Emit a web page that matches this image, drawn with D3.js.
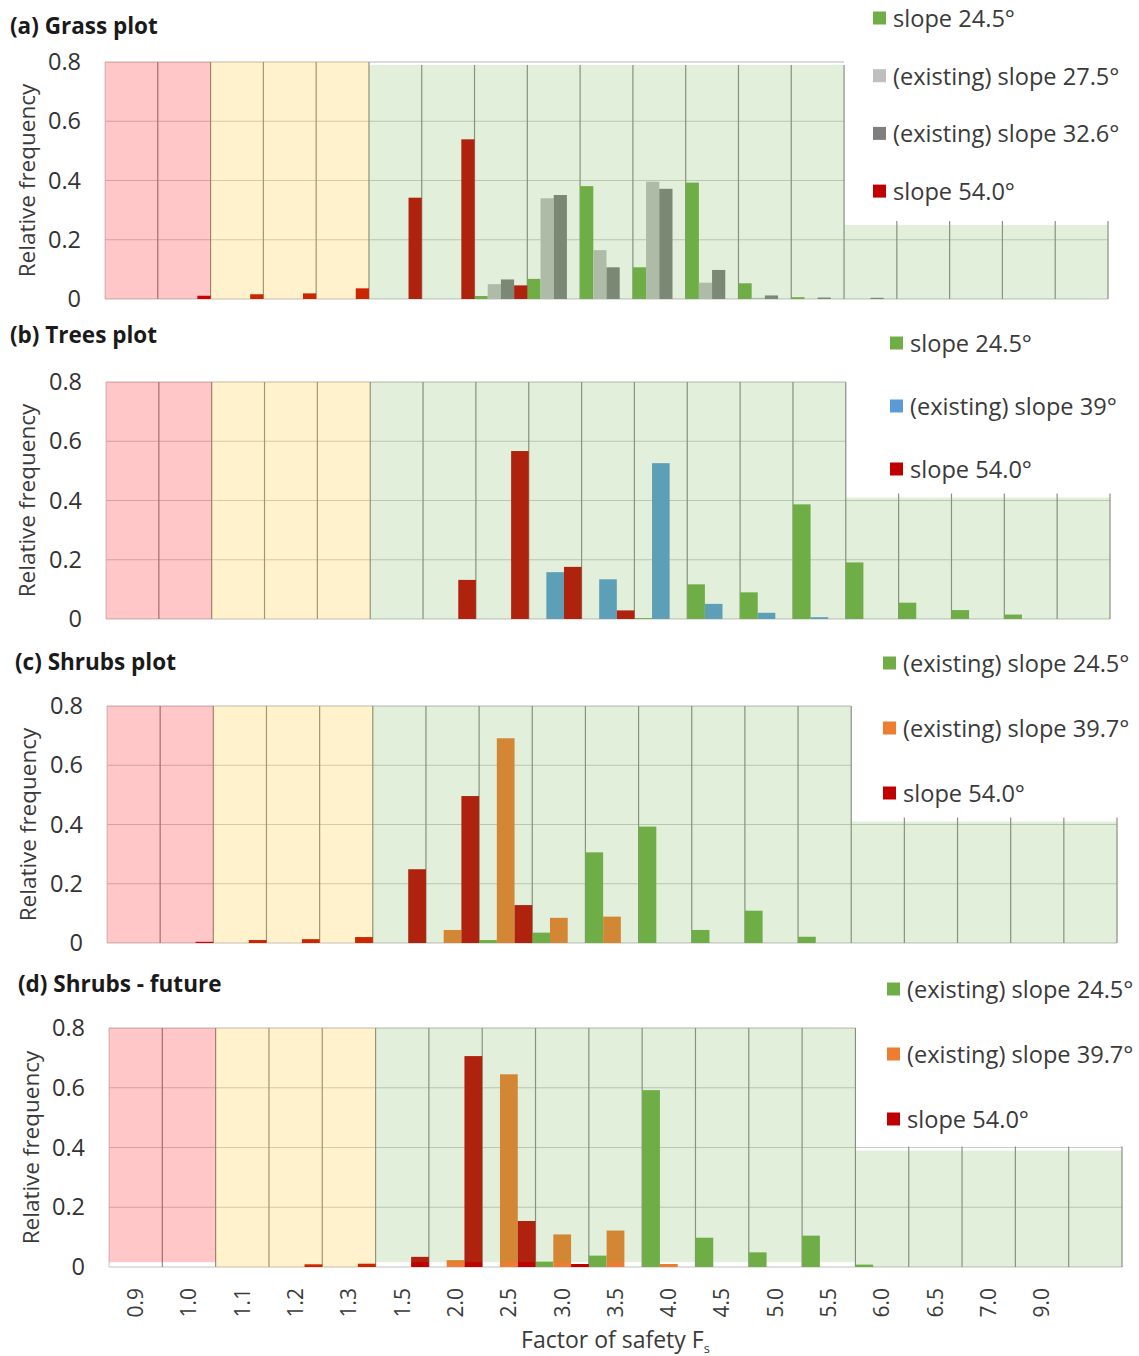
<!DOCTYPE html>
<html>
<head>
<meta charset="utf-8">
<script src="https://cdn.jsdelivr.net/npm/d3@7"></script>
<style>
  body { margin: 0; background: #fff; }
  svg { display: block; }
  text { font-family: "Open Sans", sans-serif; }
</style>
</head>
<body>
<svg id="chart" width="1139" height="1356"></svg>
<script>
// Factor-of-safety classes (x categories); the last class is left unlabelled
const categories = ["0.9","1.0","1.1","1.2","1.3","1.5","2.0","2.5","3.0","3.5","4.0","4.5","5.0","5.5","6.0","6.5","7.0","9.0",""];
const yTickValues = [0, 0.2, 0.4, 0.6, 0.8];

// (a) Grass plot — relative frequency per class
const grassSlope245 = [0,0,0,0,0,0,0,0.010,0.068,0.381,0.107,0.393,0.053,0.006,0,0,0,0,0];
const grassSlope275 = [0,0,0,0,0,0,0,0.050,0.340,0.165,0.396,0.055,0.004,0,0,0,0,0,0];
const grassSlope326 = [0,0,0,0,0,0,0,0.066,0.351,0.107,0.372,0.098,0.012,0.005,0.004,0,0,0,0];
const grassSlope540 = [0,0.011,0.016,0.019,0.036,0.342,0.539,0.046,0,0,0,0,0,0,0,0,0,0,0];

// (b) Trees plot
const treesSlope245 = [0,0,0,0,0,0,0,0,0,0,0.003,0.117,0.090,0.387,0.191,0.055,0.030,0.015,0];
const treesSlope39  = [0,0,0,0,0,0,0,0,0.158,0.134,0.526,0.051,0.021,0.006,0,0,0,0,0];
const treesSlope540 = [0,0,0,0,0,0,0.132,0.567,0.176,0.029,0,0,0,0,0,0,0,0,0];

// (c) Shrubs plot
const shrubsSlope245 = [0,0,0,0,0,0,0,0.010,0.035,0.306,0.393,0.044,0.109,0.021,0,0,0,0,0];
const shrubsSlope397 = [0,0,0,0,0,0,0.044,0.691,0.085,0.089,0,0,0,0,0,0,0,0,0];
const shrubsSlope540 = [0,0.004,0.010,0.013,0.020,0.249,0.496,0.128,0,0,0,0,0,0,0,0,0,0,0];

// (d) Shrubs - future
const futureSlope245 = [0,0,0,0,0,0,0,0,0.018,0.038,0.592,0.098,0.049,0.105,0.008,0,0,0,0];
const futureSlope397 = [0,0,0,0,0,0,0.023,0.645,0.109,0.122,0.010,0,0,0,0,0,0,0,0];
const futureSlope540 = [0,0,0,0.009,0.011,0.034,0.706,0.154,0.010,0,0,0,0,0,0,0,0,0,0];

// Stability zones shaded over the bars (class index range, value range)
const grassZones  = [
  { from: 0, to: 1,  kind: "unstable", lo: 0, hi: 0.80 },
  { from: 2, to: 4,  kind: "marginal", lo: 0, hi: 0.80 },
  { from: 5, to: 13, kind: "stable",   lo: 0, hi: 0.79 },
  { from: 14, to: 18, kind: "stable",  lo: 0, hi: 0.25 }
];
const treesZones  = [
  { from: 0, to: 1,  kind: "unstable", lo: 0, hi: 0.80 },
  { from: 2, to: 4,  kind: "marginal", lo: 0, hi: 0.80 },
  { from: 5, to: 13, kind: "stable",   lo: 0, hi: 0.80 },
  { from: 14, to: 18, kind: "stable",  lo: 0, hi: 0.41 }
];
const shrubsZones = [
  { from: 0, to: 1,  kind: "unstable", lo: 0, hi: 0.80 },
  { from: 2, to: 4,  kind: "marginal", lo: 0, hi: 0.80 },
  { from: 5, to: 13, kind: "stable",   lo: 0, hi: 0.80 },
  { from: 14, to: 18, kind: "stable",  lo: 0, hi: 0.41 }
];
const futureZones = [
  { from: 0, to: 1,  kind: "unstable", lo: 0.016, hi: 0.80 },
  { from: 2, to: 4,  kind: "marginal", lo: 0,     hi: 0.80 },
  { from: 5, to: 13, kind: "stable",   lo: 0.016, hi: 0.80 },
  { from: 14, to: 18, kind: "stable",  lo: 0,     hi: 0.39 }
];

const colors = {
  green: "#70ad47", lightGray: "#bfbfbf", darkGray: "#7f7f7f",
  red: "#c00000", blue: "#5b9bd5", orange: "#ed7d31"
};
const zoneFill = { unstable: "#ff0000", marginal: "#ffc000", stable: "#70ad47" };
const zoneOpacity = { unstable: 0.22, marginal: 0.2, stable: 0.2 };

const panels = [
  {
    title: "(a) Grass plot", zones: grassZones,
    series: [
      { name: "slope 24.5°", values: grassSlope245, color: colors.green },
      { name: "(existing) slope 27.5°", values: grassSlope275, color: colors.lightGray },
      { name: "(existing) slope 32.6°", values: grassSlope326, color: colors.darkGray },
      { name: "slope 54.0°", values: grassSlope540, color: colors.red }
    ],
    box: { left: 105, right: 1108, top: 62, bottom: 299 },
    titlePos: [10, 34], yTitleX: 26, legend: { x: 873, y: 18, step: 57.7 }
  },
  {
    title: "(b) Trees plot", zones: treesZones,
    series: [
      { name: "slope 24.5°", values: treesSlope245, color: colors.green },
      { name: "(existing) slope 39°", values: treesSlope39, color: colors.blue },
      { name: "slope 54.0°", values: treesSlope540, color: colors.red }
    ],
    box: { left: 106, right: 1110, top: 382, bottom: 619 },
    titlePos: [10, 343], yTitleX: 26, legend: { x: 890, y: 343, step: 63 }
  },
  {
    title: "(c) Shrubs plot", zones: shrubsZones,
    series: [
      { name: "(existing) slope 24.5°", values: shrubsSlope245, color: colors.green },
      { name: "(existing) slope 39.7°", values: shrubsSlope397, color: colors.orange },
      { name: "slope 54.0°", values: shrubsSlope540, color: colors.red }
    ],
    box: { left: 107, right: 1117, top: 706, bottom: 943 },
    titlePos: [15, 670], yTitleX: 27, legend: { x: 883, y: 663, step: 65 }
  },
  {
    title: "(d) Shrubs - future", zones: futureZones,
    series: [
      { name: "(existing) slope 24.5°", values: futureSlope245, color: colors.green },
      { name: "(existing) slope 39.7°", values: futureSlope397, color: colors.orange },
      { name: "slope 54.0°", values: futureSlope540, color: colors.red }
    ],
    box: { left: 109, right: 1122, top: 1028, bottom: 1267 },
    titlePos: [18, 992], yTitleX: 30, legend: { x: 887, y: 989, step: 65 },
    showXAxis: true
  }
];

const svg = d3.select("#chart");
const textColor = "#3a3a3a";

function drawPanel(p) {
  const g = svg.append("g");
  const b = p.box;
  const x = d3.scaleBand().domain(d3.range(categories.length)).range([b.left, b.right]).padding(0);
  const y = d3.scaleLinear().domain([0, 0.8]).range([b.bottom, b.top]);
  const inner = d3.scaleBand().domain(d3.range(p.series.length)).range([0, x.bandwidth()]).padding(0);
  const bw = x.bandwidth();

  // height of the shaded zone above each class
  const bandTop = categories.map((c, i) => {
    const z = p.zones.find(z => i >= z.from && i <= z.to);
    return z ? z.hi : 0;
  });

  // horizontal gridlines, only inside the shaded zones
  const grid = g.append("g");
  yTickValues.filter(t => t > 0).forEach(t => {
    categories.forEach((c, i) => {
      if (bandTop[i] >= t - 0.015) {
        grid.append("line")
          .attr("x1", x(i)).attr("x2", x(i) + bw)
          .attr("y1", y(t)).attr("y2", y(t))
          .attr("stroke", t === 0.8 ? "#b8b8b8" : "#cccccc").attr("stroke-width", 1.2);
      }
    });
  });
  // baseline
  grid.append("line")
    .attr("x1", b.left).attr("x2", b.right)
    .attr("y1", y(0)).attr("y2", y(0))
    .attr("stroke", "#d4d4d4").attr("stroke-width", 1.5);
  // vertical class separators, reaching a little above a lower zone
  d3.range(categories.length + 1).forEach(i => {
    const h = Math.max(bandTop[i - 1] || 0, bandTop[i] || 0);
    const xx = i < categories.length ? x(i) : x(i - 1) + bw;
    const top = h < 0.7 ? y(h) - 4 : y(h);
    grid.append("line")
      .attr("x1", xx).attr("x2", xx)
      .attr("y1", y(0)).attr("y2", top)
      .attr("stroke", i === 0 ? "#d0d0d0" : "#8c8c8c").attr("stroke-width", 1.2);
  });

  // bars
  p.series.forEach((s, k) => {
    g.append("g").selectAll("rect")
      .data(s.values)
      .join("rect")
      .attr("x", (d, i) => x(i) + inner(k))
      .attr("width", inner.bandwidth())
      .attr("y", d => y(d))
      .attr("height", d => y(0) - y(d))
      .attr("fill", s.color);
  });

  // translucent stability zones over the bars
  g.append("g").selectAll("rect")
    .data(p.zones)
    .join("rect")
    .attr("x", z => x(z.from))
    .attr("width", z => x(z.to) + bw - x(z.from))
    .attr("y", z => y(z.hi))
    .attr("height", z => y(z.lo) - y(z.hi))
    .attr("fill", z => zoneFill[z.kind])
    .attr("fill-opacity", z => zoneOpacity[z.kind]);

  // y axis
  const yAxis = g.append("g")
    .attr("transform", `translate(${b.left},0)`)
    .call(d3.axisLeft(y).tickValues(yTickValues).tickSize(0).tickPadding(24)
      .tickFormat(d => d === 0 ? "0" : d.toFixed(1)));
  yAxis.select(".domain").remove();
  yAxis.selectAll("text")
    .style("font-family", '"Open Sans", sans-serif')
    .style("font-size", "23.5px")
    .attr("fill", "#333");

  // y title
  g.append("text")
    .attr("transform", `translate(${p.yTitleX},${(b.top + b.bottom) / 2}) rotate(-90)`)
    .attr("text-anchor", "middle")
    .attr("dominant-baseline", "central")
    .style("font-size", "22.5px")
    .attr("fill", textColor)
    .text("Relative frequency");

  // panel title
  g.append("text")
    .attr("x", p.titlePos[0]).attr("y", p.titlePos[1])
    .style("font-size", "22.5px").style("font-weight", "700")
    .attr("fill", "#1a1a1a")
    .text(p.title);

  // legend
  const lg = g.append("g");
  p.series.forEach((s, k) => {
    const cy = p.legend.y + k * p.legend.step;
    lg.append("rect")
      .attr("x", p.legend.x).attr("y", cy - 6.5)
      .attr("width", 13).attr("height", 13)
      .attr("fill", s.color);
    lg.append("text")
      .attr("x", p.legend.x + 20).attr("y", cy)
      .attr("dominant-baseline", "central")
      .style("font-size", "23.6px")
      .attr("fill", textColor)
      .text(s.name);
  });

  // x axis with rotated class labels
  if (p.showXAxis) {
    const xAxis = g.append("g")
      .attr("transform", `translate(0,${b.bottom})`)
      .call(d3.axisBottom(x).tickSize(0).tickFormat(i => categories[i]));
    xAxis.select(".domain").remove();
    xAxis.selectAll("text")
      .attr("transform", "rotate(-90)")
      .attr("x", -21).attr("y", 0).attr("dy", "0.35em")
      .style("text-anchor", "end")
      .style("font-family", '"Open Sans", sans-serif')
      .style("font-size", "21px")
      .attr("fill", textColor);

    const title = g.append("text")
      .attr("x", (b.left + b.right) / 2).attr("y", 1348)
      .attr("text-anchor", "middle")
      .style("font-size", "23px")
      .attr("fill", textColor);
    title.append("tspan").text("Factor of safety F");
    title.append("tspan").attr("dy", 5).style("font-size", "13px").text("s");
  }
}

panels.forEach(drawPanel);
</script>
</body>
</html>
